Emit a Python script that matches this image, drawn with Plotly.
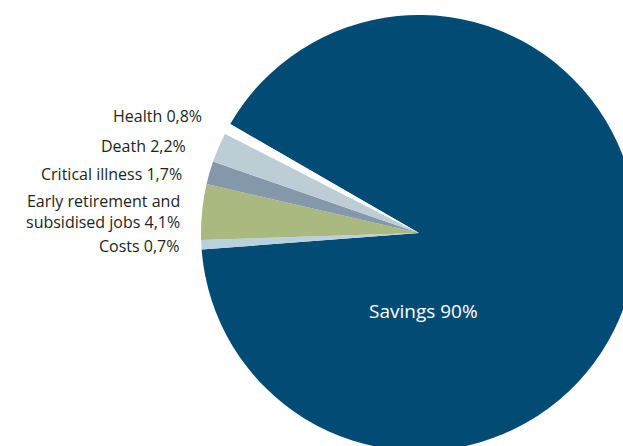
import plotly.graph_objects as go

categories = ["Savings", "Costs", "Early retirement and<br>subsidised jobs", "Critical illness", "Death", "Health"]
values = [90, 0.7, 4.1, 1.7, 2.2, 0.8]
value_labels = ["90%", "0,7%", "4,1%", "1,7%", "2,2%", "0,8%"]
colors = ["#024b74", "#b9d0de", "#aab980", "#8598aa", "#bccdd6", "#ffffff"]

# the pie runs past the right and bottom edges of the 623x446 view
W, H = 637, 451
cx, cy, r = 419, 233, 218
dom_x = [max(0, (cx - r) / W), min(1, (cx + r) / W)]
dom_y = [max(0, 1 - (cy + r) / H), min(1, 1 - (cy - r) / H)]

fig = go.Figure(go.Pie(
    labels=categories,
    values=values,
    sort=False,
    direction="clockwise",
    rotation=-60,
    marker=dict(colors=colors, line=dict(width=0)),
    textinfo="none",
    hoverinfo="label+percent",
    showlegend=False,
    domain=dict(x=dom_x, y=dom_y),
))

# label anchors (px): right edge x, centre y
label_pos = {
    "Health": (204, 116),
    "Death": (188, 146),
    "Critical illness": (184, 174),
    "Early retirement and<br>subsidised jobs": (182, 211.5),
    "Costs": (181, 246),
}
font_lbl = dict(family="Open Sans", size=16, color="#231f20")
for cat, val in zip(categories, value_labels):
    if cat == "Savings":
        fig.add_annotation(x=423 / W, y=1 - 311 / H, xref="paper", yref="paper",
                           text=f"{cat} {val}", showarrow=False,
                           font=dict(family="Open Sans", size=19, color="white"),
                           xanchor="center", yanchor="middle")
        continue
    px, py = label_pos[cat]
    fig.add_annotation(x=px / W, y=1 - py / H, xref="paper", yref="paper",
                       text=f"{cat} {val}", showarrow=False, align="right",
                       font=font_lbl, xanchor="right", yanchor="middle")

fig.update_layout(
    width=W, height=H,
    margin=dict(l=0, r=0, t=0, b=0),
    paper_bgcolor="white",
    plot_bgcolor="white",
)

fig.write_html("out.html", config={"displayModeBar": False},
               post_script="document.body.style.margin='0';document.body.style.overflow='hidden';")
